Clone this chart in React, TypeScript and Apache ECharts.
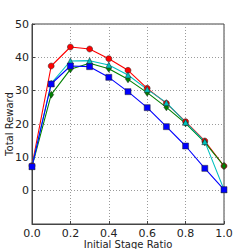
import React, { useEffect, useRef } from "react";
import * as echarts from "echarts";

const ratios = [0.0, 0.1, 0.2, 0.3, 0.4, 0.5, 0.6, 0.7, 0.8, 0.9, 1.0];
const redValues = [7.5, 37.4, 43.1, 42.5, 39.6, 36.1, 30.7, 26.2, 20.7, 14.9, 7.4];
const cyanValues = [7.3, 32.2, 38.9, 39.0, 37.7, 34.7, 30.4, 26.4, 20.5, 14.7, 0.3];
const greenValues = [7.2, 28.8, 36.4, 38.2, 36.6, 33.4, 29.4, 25.0, 20.2, 14.5, 7.4];
const blueValues = [7.2, 32.0, 37.4, 37.2, 34.0, 29.7, 24.9, 19.2, 13.4, 6.7, 0.3];
const xTicks = [0.0, 0.2, 0.4, 0.6, 0.8, 1.0];

const seriesDefs = [
  { name: "red", color: "#ff0000", symbol: "circle", size: 6, data: redValues },
  { name: "green", color: "#008000", symbol: "diamond", size: 6, data: greenValues },
  { name: "cyan", color: "#00bfbf", symbol: "triangle", size: 6, data: cyanValues },
  { name: "blue", color: "#0000ff", symbol: "rect", size: 6, data: blueValues },
];

export default function App() {
  const ref = useRef<HTMLDivElement>(null);
  useEffect(() => {
    document.body.style.margin = "0";
    const chart = echarts.init(ref.current!, null, { renderer: "svg" });
    const font = "DejaVu Sans";
    chart.setOption({
      animation: false,
      backgroundColor: "#ffffff",
      grid: {
        left: 32,
        right: 25,
        top: 24,
        bottom: 25,
        containLabel: false,
        outerBoundsMode: "none",
        show: true,
        borderColor: "#444444",
        borderWidth: 1,
        backgroundColor: "transparent",
      },
      xAxis: {
        type: "value",
        min: 0,
        max: 1,
        interval: 0.2,
        name: "Initial Stage Ratio",
        nameLocation: "middle",
        nameGap: 15,
        nameMoveOverlap: false,
        nameTextStyle: { fontFamily: font, fontSize: 10, color: "#222" },
        axisLine: { show: true, onZero: false, lineStyle: { color: "#444444" } },
        axisTick: { show: true, inside: true, length: 3, lineStyle: { color: "#444" } },
        axisLabel: {
          fontFamily: font,
          fontSize: 11,
          color: "#222",
          margin: 4,
          formatter: (v: number) => (xTicks.some((t) => Math.abs(t - v) < 1e-6) ? v.toFixed(1) : ""),
        },
        splitLine: { show: true, lineStyle: { color: "#9a9a9a", type: [1, 2], width: 1 } },
      },
      yAxis: {
        type: "value",
        min: -10,
        max: 50,
        interval: 10,
        name: "Total Reward",
        nameLocation: "middle",
        nameGap: 18,
        nameMoveOverlap: false,
        nameTextStyle: { fontFamily: font, fontSize: 10, color: "#222" },
        axisLine: { show: true, onZero: false, lineStyle: { color: "#444444" } },
        axisTick: { show: true, inside: true, length: 3, lineStyle: { color: "#444" } },
        axisLabel: {
          fontFamily: font,
          fontSize: 11,
          color: "#222",
          margin: 3,
          formatter: (v: number) => (v < 0 ? "" : String(v)),
        },
        splitLine: { show: true, lineStyle: { color: "#9a9a9a", type: [1, 2], width: 1 } },
      },
      series: seriesDefs.map((s) => ({
        type: "line",
        name: s.name,
        data: ratios.map((r, i) => [r, s.data[i]]),
        symbol: s.symbol,
        symbolSize: s.symbol === "diamond" ? [5, 7] : s.size,
        showAllSymbol: true,
        lineStyle: { color: s.color, width: 1.1 },
        itemStyle: { color: s.color, borderColor: "#222", borderWidth: 0.5 },
      })),
    });
    return () => chart.dispose();
  }, []);
  return <div ref={ref} style={{ width: 249, height: 249, position: "absolute", left: 0, top: 0 }} />;
}
